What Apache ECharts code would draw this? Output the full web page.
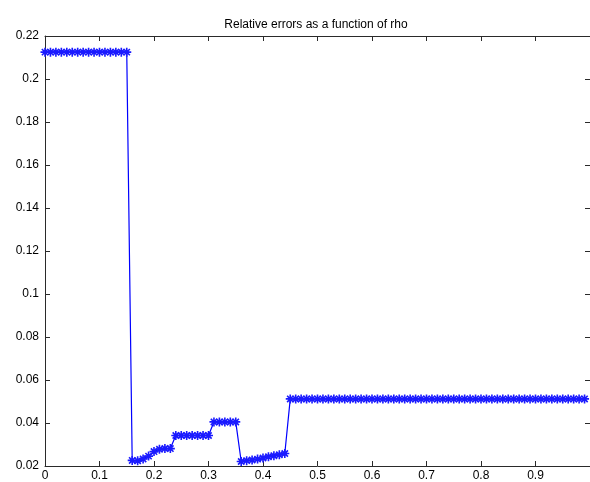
<!DOCTYPE html>
<html>
<head>
<meta charset="utf-8">
<script src="https://cdn.jsdelivr.net/npm/echarts@6/dist/echarts.min.js"></script>
<style>
  html, body { margin: 0; padding: 0; background: #fff; }
  #chart { width: 590px; height: 482px; }
</style>
</head>
<body>
<div id="chart"></div>
<script>
// rho grid
var rho = [
  0.00, 0.01, 0.02, 0.03, 0.04, 0.05, 0.06, 0.07, 0.08, 0.09,
  0.10, 0.11, 0.12, 0.13, 0.14, 0.15, 0.16, 0.17, 0.18, 0.19,
  0.20, 0.21, 0.22, 0.23, 0.24, 0.25, 0.26, 0.27, 0.28, 0.29,
  0.30, 0.31, 0.32, 0.33, 0.34, 0.35, 0.36, 0.37, 0.38, 0.39,
  0.40, 0.41, 0.42, 0.43, 0.44, 0.45, 0.46, 0.47, 0.48, 0.49,
  0.50, 0.51, 0.52, 0.53, 0.54, 0.55, 0.56, 0.57, 0.58, 0.59,
  0.60, 0.61, 0.62, 0.63, 0.64, 0.65, 0.66, 0.67, 0.68, 0.69,
  0.70, 0.71, 0.72, 0.73, 0.74, 0.75, 0.76, 0.77, 0.78, 0.79,
  0.80, 0.81, 0.82, 0.83, 0.84, 0.85, 0.86, 0.87, 0.88, 0.89,
  0.90, 0.91, 0.92, 0.93, 0.94, 0.95, 0.96, 0.97, 0.98, 0.99
];

// relative error for each rho
var relErr = [
  0.2125, 0.2125, 0.2125, 0.2125, 0.2125, 0.2125, 0.2125, 0.2125, 0.2125, 0.2125,
  0.2125, 0.2125, 0.2125, 0.2125, 0.2125, 0.2125, 0.0226, 0.0224, 0.0233, 0.0246,
  0.0267, 0.0278, 0.0281, 0.0281, 0.0342, 0.0342, 0.0342, 0.0342, 0.0342, 0.0342,
  0.0342, 0.0405, 0.0405, 0.0405, 0.0405, 0.0405, 0.0221, 0.0225, 0.0228, 0.0232,
  0.0237, 0.0243, 0.0248, 0.0252, 0.0258, 0.0512, 0.0512, 0.0512, 0.0512, 0.0512,
  0.0512, 0.0512, 0.0512, 0.0512, 0.0512, 0.0512, 0.0512, 0.0512, 0.0512, 0.0512,
  0.0512, 0.0512, 0.0512, 0.0512, 0.0512, 0.0512, 0.0512, 0.0512, 0.0512, 0.0512,
  0.0512, 0.0512, 0.0512, 0.0512, 0.0512, 0.0512, 0.0512, 0.0512, 0.0512, 0.0512,
  0.0512, 0.0512, 0.0512, 0.0512, 0.0512, 0.0512, 0.0512, 0.0512, 0.0512, 0.0512,
  0.0512, 0.0512, 0.0512, 0.0512, 0.0512, 0.0512, 0.0512, 0.0512, 0.0512, 0.0512
];

var titleText = 'Relative errors as a function of rho';

// asterisk marker built from four filled bars
var asterisk = 'path://M0 4.1L10 4.1L10 5.9L0 5.9Z' +
  'M4.1 0L5.9 0L5.9 10L4.1 10Z' +
  'M2.14 0.86L9.14 7.86L7.86 9.14L0.86 2.14Z' +
  'M7.86 0.86L9.14 2.14L2.14 9.14L0.86 7.86Z';

var points = rho.map(function (r, i) { return [r, relErr[i]]; });

var fmt = function (v) { return String(+v.toFixed(2)); };
var font = 'Liberation Sans, Arial, sans-serif';
var axisCol = '#2a2a2a';

var chart = echarts.init(document.getElementById('chart'), null, { renderer: 'canvas' });
chart.setOption({
  animation: false,
  backgroundColor: '#ffffff',
  title: {
    text: titleText,
    left: 311, top: 14, textAlign: 'center',
    textStyle: { fontFamily: font, fontSize: 12, fontWeight: 'normal', color: '#000' }
  },
  grid: { left: 45, top: 36, width: 548, height: 432, containLabel: false },
  xAxis: [{
    type: 'value', min: 0, max: 1, interval: 0.1, position: 'bottom',
    axisLine: { show: true, lineStyle: { color: axisCol, width: 1 } },
    axisTick: { show: true, inside: true, length: 5, lineStyle: { color: axisCol } },
    axisLabel: { show: true, margin: 4, showMaxLabel: false, formatter: fmt,
      fontFamily: font, fontSize: 12, color: '#000' },
    splitLine: { show: false }
  }, {
    type: 'value', min: 0, max: 1, interval: 0.1, position: 'top',
    axisLine: { show: true, onZero: false, lineStyle: { color: axisCol, width: 1 } },
    axisTick: { show: true, inside: true, length: 5, lineStyle: { color: axisCol } },
    axisLabel: { show: false },
    splitLine: { show: false }
  }],
  yAxis: [{
    type: 'value', min: 0.02, max: 0.22, interval: 0.02, position: 'left',
    axisLine: { show: true, onZero: false, lineStyle: { color: axisCol, width: 1 } },
    axisTick: { show: true, inside: true, length: 5, lineStyle: { color: axisCol } },
    axisLabel: { show: true, margin: 6, formatter: fmt,
      fontFamily: font, fontSize: 12, color: '#000' },
    splitLine: { show: false }
  }, {
    type: 'value', min: 0.02, max: 0.22, interval: 0.02, position: 'right',
    axisLine: { show: true, onZero: false, lineStyle: { color: axisCol, width: 1 } },
    axisTick: { show: true, inside: true, length: 5, lineStyle: { color: axisCol } },
    axisLabel: { show: false },
    splitLine: { show: false }
  }],
  series: [{
    type: 'line',
    data: points,
    xAxisIndex: 0, yAxisIndex: 0,
    clip: false,
    symbol: asterisk,
    symbolSize: 9,
    showAllSymbol: true,
    lineStyle: { color: '#0000ff', width: 1.2 },
    itemStyle: { color: '#1a1aff', borderWidth: 0 }
  }]
});
</script>
</body>
</html>
